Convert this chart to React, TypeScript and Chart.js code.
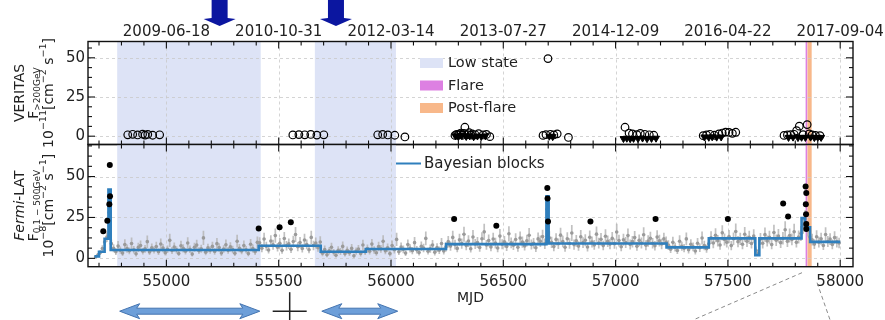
import React, { useEffect, useRef } from 'react';
import { Chart, registerables } from 'chart.js';
Chart.register(...registerables);

// ---------- axes ----------
const X_MIN = 54651;
const X_MAX = 58057;
const xTicks = [55000, 55500, 56000, 56500, 57000, 57500, 58000];
const dateLabels = ['2009-06-18', '2010-10-31', '2012-03-14', '2013-07-27', '2014-12-09', '2016-04-22', '2017-09-04'];
const yTicks = [0, 25, 50];
const TOP_Y = [-5.3, 60.4];
const BOT_Y = [-5.1, 69.6];

// ---------- states (MJD) ----------
const lowStates = [[54781, 55420], [55661, 56022]];
const flareRange = [57846, 57853];
const postFlareRange = [57854, 57873];
const markerArrows = [55237, 55755];
const lowStateArrows = [[54792, 55416], [55692, 56030]];
const crossMjd = 55549;
const zoomLines = [[57830, 57345], [57897, 57955]];

// ---------- VERITAS ----------
const vMjd = [54828, 54850, 54872, 54894, 54905, 54917, 54939, 54970,
  55563, 55590, 55616, 55643, 55670, 55701,
  55941, 55963, 55986, 56017, 56062,
  56285, 56292, 56298, 56305, 56312, 56318, 56325, 56329, 56340, 56348, 56355, 56362, 56375, 56390, 56410, 56425, 56440,
  56677, 56690, 56699, 56710, 56725, 56740, 56790,
  57042, 57060, 57075, 57095, 57110, 57130, 57150, 57170,
  57390, 57405, 57420, 57440, 57460, 57475, 57490, 57505, 57520, 57535,
  57750, 57765, 57780, 57795, 57806, 57818, 57835, 57853, 57862, 57875, 57890, 57910];
const vFlux = [0.9, 1.2, 0.8, 1.3, 0.7, 1.1, 0.6, 0.9,
  0.8, 1.0, 0.9, 1.1, 0.7, 0.9,
  0.9, 1.1, 0.8, 0.6, -0.5,
  0.5, 1.2, 0.8, 1.5, 2.0, 0.6, 1.8, 5.7, 1.0, 2.2, 0.7, 1.4, 0.9, 1.6, 0.8, 1.1, -0.3,
  0.5, 1.0, 49.5, 1.2, 0.8, 1.5, -0.8,
  5.7, 2.0, 1.5, 1.0, 1.8, 1.2, 0.9, 0.6,
  0.3, 0.8, 1.2, 0.6, 1.5, 2.0, 2.6, 2.4, 1.8, 2.5,
  0.5, 0.8, 1.0, 1.2, 3.5, 6.4, 1.0, 7.4, 1.5, 0.8, 0.5, 0.3];
const ulMjd = [56288, 56300, 56315, 56335, 56350, 56368, 56385, 56402, 56420,
  56705, 56720,
  57035, 57050, 57065, 57080, 57100, 57120, 57140, 57160, 57180,
  57395, 57415, 57430, 57450, 57470,
  57770, 57790, 57812, 57828, 57845, 57868, 57885, 57900, 57915];
const ulFlux = [0.2, -0.3, 0.4, -0.2, 0.3, -0.4, 0.1, -0.2, 0.2,
  0.0, -0.3,
  -1.5, -1.3, -1.6, -1.4, -1.5, -1.2, -1.6, -1.4, -1.3,
  -0.5, -0.7, -0.4, -0.6, -0.5,
  -0.8, -0.6, -0.9, -0.7, -0.8, -0.6, -0.9, -0.7, -0.8];

// ---------- Fermi-LAT (10-day bins) ----------
const FERMI_START = 54685;
const FERMI_STEP = 10;
const fermiFlux = [
  1.0, 2.0, 3.5, 6.0, 10.0, 13.0, 28, 9.0,
  6.2, 4.1, 7.5, 5.0, 3.2, 8.4, 6.0, 4.6, 9.1, 5.3,
  2.8, 6.7, 7.9, 4.4, 5.8, 10.2, 3.9, 6.5, 5.1, 7.2,
  4.0, 8.8, 6.3, 3.5, 5.6, 11.0, 4.8, 6.9, 5.2, 3.0,
  7.7, 6.1, 4.3, 9.4, 5.5, 2.6, 6.8, 8.1, 4.7, 5.9,
  12.5, 3.8, 6.4, 5.0, 7.3, 4.2, 9.0, 6.6, 3.3, 5.7,
  8.3, 4.9, 7.0, 5.4, 3.1, 10.5, 6.2, 4.5, 7.8, 5.3,
  2.9, 8.6, 6.0, 4.1, 9.8,
  9.5, 6.2, 11.8, 7.4, 5.1, 10.6, 8.3, 13.9, 6.8, 9.2,
  4.9, 12.1, 7.7, 8.9, 5.6, 10.3, 14.6, 7.1, 9.7, 6.0,
  11.2, 8.5, 5.3, 12.8, 7.9, 9.4, 6.5, 10.0,
  3.1, 5.4, 2.2, 4.6, 6.8, 3.7, 1.9, 5.0, 4.2, 7.3,
  2.8, 4.9, 3.4, 6.1, 1.6, 4.4, 5.7, 3.0, 8.2, 4.1,
  6.0, 4.3, 8.7, 5.1, 3.4, 7.2, 5.8, 10.4, 4.6, 6.5,
  2.9, 7.9, 5.3, 11.6, 4.0, 6.9, 5.5, 3.2, 8.4, 6.1,
  4.7, 9.6, 5.2, 3.6, 7.4, 6.3, 12.2, 4.4, 5.9, 8.1,
  3.8, 6.6, 5.0, 9.1, 4.5, 7.0,
  10.2, 7.5, 12.8, 8.4, 6.1, 11.3, 9.0, 14.7, 7.8, 10.6,
  5.9, 13.1, 8.8, 9.7, 6.6, 12.0, 16.2, 8.2, 10.9, 7.0,
  11.8, 9.3, 6.3, 13.6, 8.6, 10.1, 7.3, 15.0, 9.5, 8.0,
  11.5, 6.8, 12.4, 9.9, 7.6, 10.8, 14.1, 8.5, 9.2, 6.5,
  11.9, 10.4, 13.3, 8.9,
  30,
  12.5, 9.8, 7.2, 11.6, 8.9, 14.2, 10.3, 6.8, 12.0, 9.1,
  15.5, 8.4, 10.7, 7.5, 13.2, 9.6, 11.1, 6.9, 12.9, 10.0,
  8.2, 14.8, 9.3, 11.7, 7.8, 13.5, 10.5, 8.7, 12.2, 9.0,
  16.1, 10.9, 7.1, 11.4, 9.7, 13.9, 8.5, 10.2, 12.7, 7.4,
  11.0, 9.4, 14.4, 8.0, 10.6, 12.3, 9.2, 7.7, 13.0, 10.8,
  8.8, 11.9, 9.9,
  8.1, 5.6, 9.8, 6.9, 4.8, 10.5, 7.4, 6.2, 11.9, 5.3,
  8.6, 7.0, 4.5, 9.2, 6.5, 12.4, 7.8, 5.9, 8.9,
  12.6, 9.4, 14.1, 10.8, 8.2, 15.6, 11.5, 9.9, 13.3, 7.8,
  12.0, 16.4, 10.2, 11.9, 8.6, 14.7, 10.5, 12.8, 9.1, 13.6,
  5.0, 3.2,
  11.8, 9.2, 14.5, 10.6, 12.9, 8.4, 15.8, 11.1, 13.7, 9.6,
  12.3, 17.5, 10.4, 14.0, 11.6, 16.3, 9.8, 13.1, 15.2,
  20, 24, 18, 13,
  11.4, 8.7, 13.2, 9.9, 12.0, 7.9, 14.6, 10.3, 11.8, 8.5, 12.7, 10.1, 9.4,
];
const fermiErr = [
  0.8, 1.2, 1.5, 2.0, 2.5, 3.0, 5.0, 2.5,
  2.4, 2.0, 3.1, 2.2, 1.8, 3.3, 2.5, 2.1, 3.6, 2.3,
  1.7, 2.8, 3.0, 2.0, 2.4, 3.8, 1.9, 2.6, 2.2, 3.0,
  2.0, 3.4, 2.5, 1.8, 2.3, 4.0, 2.1, 2.8, 2.2, 1.6,
  3.1, 2.5, 2.0, 3.5, 2.3, 1.5, 2.7, 3.2, 2.1, 2.4,
  4.3, 1.9, 2.6, 2.2, 2.9, 2.0, 3.4, 2.6, 1.8, 2.3,
  3.2, 2.1, 2.8, 2.3, 1.7, 3.9, 2.5, 2.0, 3.1, 2.2,
  1.6, 3.3, 2.4, 2.0, 3.6,
  3.4, 2.5, 3.9, 2.8, 2.2, 3.6, 3.0, 4.4, 2.6, 3.3,
  2.1, 4.0, 2.9, 3.2, 2.3, 3.5, 4.6, 2.7, 3.4, 2.4,
  3.8, 3.0, 2.2, 4.1, 2.9, 3.3, 2.5, 3.5,
  1.8, 2.5, 1.5, 2.2, 2.8, 2.0, 1.4, 2.4, 2.1, 3.0,
  1.7, 2.3, 1.9, 2.6, 1.3, 2.2, 2.5, 1.8, 3.2, 2.1,
  2.5, 2.0, 3.2, 2.3, 1.8, 2.9, 2.4, 3.7, 2.1, 2.6,
  1.7, 3.0, 2.3, 4.0, 2.0, 2.8, 2.4, 1.8, 3.1, 2.5,
  2.2, 3.5, 2.3, 1.9, 2.9, 2.6, 4.2, 2.1, 2.5, 3.1,
  2.0, 2.7, 2.3, 3.3, 2.1, 2.8,
  3.5, 2.8, 4.1, 3.0, 2.4, 3.8, 3.2, 4.6, 2.9, 3.6,
  2.3, 4.2, 3.1, 3.4, 2.6, 3.9, 5.0, 3.0, 3.7, 2.7,
  3.9, 3.3, 2.5, 4.3, 3.1, 3.5, 2.8, 4.7, 3.3, 2.9,
  3.8, 2.7, 4.0, 3.4, 2.8, 3.6, 4.5, 3.1, 3.2, 2.6,
  3.9, 3.5, 4.2, 3.2,
  6.0,
  4.0, 3.4, 2.8, 3.8, 3.2, 4.5, 3.5, 2.7, 3.9, 3.2,
  4.9, 3.1, 3.6, 2.9, 4.2, 3.3, 3.7, 2.7, 4.1, 3.4,
  3.0, 4.7, 3.3, 3.8, 2.9, 4.3, 3.5, 3.1, 3.9, 3.2,
  5.1, 3.6, 2.8, 3.7, 3.3, 4.4, 3.1, 3.5, 4.0, 2.8,
  3.6, 3.3, 4.6, 3.0, 3.5, 3.9, 3.2, 2.9, 4.2, 3.6,
  3.2, 3.8, 3.4,
  3.0, 2.4, 3.4, 2.7, 2.2, 3.6, 2.8, 2.5, 3.9, 2.3,
  3.1, 2.7, 2.1, 3.2, 2.6, 4.0, 2.9, 2.4, 3.1,
  3.9, 3.2, 4.3, 3.5, 2.9, 4.7, 3.7, 3.3, 4.1, 2.8,
  3.8, 4.9, 3.4, 3.7, 3.0, 4.5, 3.5, 4.0, 3.1, 4.2,
  2.2, 1.8,
  3.7, 3.1, 4.4, 3.4, 4.0, 2.9, 4.8, 3.5, 4.2, 3.2,
  3.8, 5.2, 3.4, 4.3, 3.6, 4.9, 3.2, 4.0, 4.6,
  5.0, 5.5, 4.6, 3.8,
  3.6, 3.0, 4.0, 3.3, 3.7, 2.8, 4.4, 3.4, 3.6, 3.0, 3.9, 3.4, 3.2,
];
const fermiHighMjd = [54719, 54737, 54746, 54749, 54748, 55411, 55504, 55554, 56281, 56469,
  56696, 56697, 56699, 56888, 57178, 57500, 57746, 57768,
  57846, 57849, 57847, 57848, 57849, 57849];
const fermiHighFlux = [16.5, 23, 33, 38, 57, 18.3, 19, 22, 24, 20,
  43, 36.6, 22.6, 22.6, 24, 24, 33.5, 25.6,
  44, 40, 33, 27, 21, 18];

// ---------- Bayesian blocks ----------
const bbEdges = [54680, 54700, 54725, 54742, 54752, 55411, 55687, 55888, 56245, 56692, 56702, 57227, 57415, 57622, 57640, 57828, 57843, 57866, 58000];
const bbLevels = [1.2, 4, 12, 42, 5.1, 7.7, 4.0, 5.7, 8.7, 38, 9.1, 6.7, 12.2, 2.0, 12.2, 24.6, 19, 10.1];

// ---------- styles ----------
const FONT = "'DejaVu Sans', 'Liberation Sans', sans-serif";
const TEXT = '#222';
const LOW_COLOR = '#dde3f6';
const FLARE_COLOR = '#dd80e2';
const POST_COLOR = '#f8b88a';
const BB_COLOR = '#2f7fbd';
const GREY = '#9a9a9a';
const GREY_BAR = 'rgba(182,182,182,0.85)';
const GRID = '#c9c9c9';

type Seg = { t: string; s: number; dy?: number; it?: boolean };
const topTitle: Seg[][] = [
  [{ t: 'VERITAS', s: 14 }],
  [{ t: 'F', s: 14 }, { t: '>200GeV', s: 9, dy: 4 }],
  [{ t: '10', s: 14 }, { t: '−11', s: 9.5, dy: -5 }, { t: '[cm', s: 14 }, { t: '−2', s: 9.5, dy: -5 }, { t: ' s', s: 14 }, { t: '−1', s: 9.5, dy: -5 }, { t: ']', s: 14 }],
];
const botTitle: Seg[][] = [
  [{ t: 'Fermi', s: 14, it: true }, { t: '-LAT', s: 14 }],
  [{ t: 'F', s: 14 }, { t: '0.1 − 500GeV', s: 9, dy: 4 }],
  [{ t: '10', s: 14 }, { t: '−8', s: 9.5, dy: -5 }, { t: '[cm', s: 14 }, { t: '−2', s: 9.5, dy: -5 }, { t: ' s', s: 14 }, { t: '−1', s: 9.5, dy: -5 }, { t: ']', s: 14 }],
];
const titleX = [20, 34, 49];
const topLegend = [['Low state', LOW_COLOR], ['Flare', FLARE_COLOR], ['Post-flare', POST_COLOR]];

function drawRotRich(ctx: CanvasRenderingContext2D, segs: Seg[], cx: number, cy: number) {
  ctx.save();
  ctx.translate(cx, cy);
  ctx.rotate(-Math.PI / 2);
  ctx.textBaseline = 'middle';
  ctx.textAlign = 'left';
  ctx.fillStyle = TEXT;
  const f = (g: Seg) => `${g.it ? 'italic ' : ''}${g.s}px ${FONT}`;
  let w = 0;
  segs.forEach((g) => { ctx.font = f(g); w += ctx.measureText(g.t).width; });
  let xx = -w / 2;
  segs.forEach((g) => { ctx.font = f(g); ctx.fillText(g.t, xx, g.dy || 0); xx += ctx.measureText(g.t).width; });
  ctx.restore();
}

function drawBandsGrid(chart: any) {
  const { ctx, chartArea: a, scales } = chart;
  const x = scales.x, y = scales.y;
  ctx.save();
  ctx.beginPath();
  ctx.rect(a.left, a.top, a.right - a.left, a.bottom - a.top);
  ctx.clip();
  const band = (r: number[], c: string) => {
    const x1 = x.getPixelForValue(r[0]), x2 = x.getPixelForValue(r[1]);
    ctx.fillStyle = c;
    ctx.fillRect(x1, a.top, x2 - x1, a.bottom - a.top);
  };
  lowStates.forEach((r) => band(r, LOW_COLOR));
  band(postFlareRange, POST_COLOR);
  band(flareRange, FLARE_COLOR);
  ctx.strokeStyle = GRID;
  ctx.lineWidth = 0.8;
  ctx.setLineDash([3, 3]);
  xTicks.forEach((v) => {
    const px = Math.round(x.getPixelForValue(v)) + 0.5;
    ctx.beginPath(); ctx.moveTo(px, a.top); ctx.lineTo(px, a.bottom); ctx.stroke();
  });
  yTicks.forEach((v) => {
    const py = Math.round(y.getPixelForValue(v)) + 0.5;
    ctx.beginPath(); ctx.moveTo(a.left, py); ctx.lineTo(a.right, py); ctx.stroke();
  });
  ctx.restore();
}

function drawFrame(chart: any) {
  const { ctx, chartArea: a, scales } = chart;
  const x = scales.x, y = scales.y;
  ctx.save();
  ctx.strokeStyle = '#111';
  ctx.lineWidth = 1.1;
  const ln = (x1: number, y1: number, x2: number, y2: number) => { ctx.beginPath(); ctx.moveTo(x1, y1); ctx.lineTo(x2, y2); ctx.stroke(); };
  for (let v = Math.ceil(x.min / 100) * 100; v <= x.max; v += 100) {
    const px = x.getPixelForValue(v);
    const len = v % 500 === 0 ? 7 : 4;
    ln(px, a.top, px, a.top + len);
    ln(px, a.bottom, px, a.bottom - len);
  }
  for (let v = Math.ceil(y.min / 6.25) * 6.25; v <= y.max; v += 6.25) {
    const py = y.getPixelForValue(v);
    const len = Math.abs(v % 25) < 1e-6 ? 7 : 4;
    ln(a.left, py, a.left + len, py);
    ln(a.right, py, a.right - len, py);
  }
  ctx.lineWidth = 1.4;
  ctx.strokeRect(a.left, a.top, a.right - a.left, a.bottom - a.top);
  ctx.restore();
}

const topPlugin = {
  id: 'topDecor',
  beforeDatasetsDraw(chart: any) { drawBandsGrid(chart); },
  afterDraw(chart: any) {
    const { ctx, chartArea: a, scales } = chart;
    const x = scales.x;
    drawFrame(chart);
    const cy = (a.top + a.bottom) / 2;
    topTitle.forEach((l, i) => drawRotRich(ctx, l, titleX[i], cy));
    ctx.save();
    ctx.font = `14.5px ${FONT}`;
    ctx.textBaseline = 'middle';
    topLegend.forEach(([label, col], i) => {
      const yy = a.top + 21.5 + i * 22.5;
      ctx.fillStyle = col;
      ctx.fillRect(420, yy - 5, 23, 10);
      ctx.fillStyle = TEXT;
      ctx.fillText(label, 448, yy + 0.5);
    });
    ctx.fillStyle = '#0b16a0';
    markerArrows.forEach((m) => {
      const cx = x.getPixelForValue(m);
      ctx.beginPath();
      ctx.moveTo(cx - 8, 0);
      ctx.lineTo(cx + 8, 0);
      ctx.lineTo(cx + 8, 18);
      ctx.lineTo(cx + 16, 19);
      ctx.lineTo(cx, 26);
      ctx.lineTo(cx - 16, 19);
      ctx.lineTo(cx - 8, 18);
      ctx.closePath();
      ctx.fill();
    });
    ctx.restore();
  },
};

function doubleArrow(ctx: CanvasRenderingContext2D, x1: number, x2: number, yc: number) {
  const hl = 20, hh = 7.5, sh = 3;
  ctx.beginPath();
  ctx.moveTo(x1, yc);
  ctx.lineTo(x1 + hl, yc - hh);
  ctx.lineTo(x1 + hl - 3, yc - sh);
  ctx.lineTo(x2 - hl + 3, yc - sh);
  ctx.lineTo(x2 - hl, yc - hh);
  ctx.lineTo(x2, yc);
  ctx.lineTo(x2 - hl, yc + hh);
  ctx.lineTo(x2 - hl + 3, yc + sh);
  ctx.lineTo(x1 + hl - 3, yc + sh);
  ctx.lineTo(x1 + hl, yc + hh);
  ctx.closePath();
  ctx.fillStyle = '#6d9fd9';
  ctx.fill();
  ctx.strokeStyle = '#4474b0';
  ctx.lineWidth = 1;
  ctx.stroke();
}

const botPlugin = {
  id: 'botDecor',
  beforeDatasetsDraw(chart: any) {
    drawBandsGrid(chart);
    const { ctx, chartArea: a, scales } = chart;
    const x = scales.x, y = scales.y;
    ctx.save();
    ctx.beginPath();
    ctx.rect(a.left, a.top, a.right - a.left, a.bottom - a.top);
    ctx.clip();
    ctx.strokeStyle = GREY_BAR;
    ctx.lineWidth = 1.7;
    fermiFlux.forEach((f, i) => {
      const m = FERMI_START + i * FERMI_STEP;
      const px = x.getPixelForValue(m);
      ctx.beginPath();
      ctx.moveTo(px, y.getPixelForValue(f - fermiErr[i]));
      ctx.lineTo(px, y.getPixelForValue(f + fermiErr[i]));
      ctx.stroke();
    });
    ctx.lineWidth = 1;
    fermiFlux.forEach((f, i) => {
      const m = FERMI_START + i * FERMI_STEP;
      ctx.beginPath();
      ctx.moveTo(x.getPixelForValue(m - 5), y.getPixelForValue(f));
      ctx.lineTo(x.getPixelForValue(m + 5), y.getPixelForValue(f));
      ctx.stroke();
    });
    ctx.restore();
  },
  afterDraw(chart: any) {
    const { ctx, chartArea: a, scales } = chart;
    const x = scales.x;
    drawFrame(chart);
    const cy = (a.top + a.bottom) / 2;
    botTitle.forEach((l, i) => drawRotRich(ctx, l, titleX[i], cy));
    ctx.save();
    ctx.strokeStyle = BB_COLOR;
    ctx.lineWidth = 2;
    ctx.beginPath(); ctx.moveTo(396, a.top + 19); ctx.lineTo(421, a.top + 19); ctx.stroke();
    ctx.fillStyle = TEXT;
    ctx.font = `15px ${FONT}`;
    ctx.textBaseline = 'middle';
    ctx.fillText('Bayesian blocks', 424, a.top + 19.5);
    ctx.textAlign = 'center';
    ctx.font = `14px ${FONT}`;
    ctx.fillText('MJD', (a.left + a.right) / 2, a.bottom + 32);
    const yc = a.bottom + 44.5;
    lowStateArrows.forEach((r) => doubleArrow(ctx, x.getPixelForValue(r[0]), x.getPixelForValue(r[1]), yc));
    const cx = x.getPixelForValue(crossMjd);
    ctx.strokeStyle = '#222';
    ctx.lineWidth = 1.5;
    ctx.beginPath(); ctx.moveTo(cx - 17, yc); ctx.lineTo(cx + 17, yc); ctx.stroke();
    ctx.beginPath(); ctx.moveTo(cx, yc - 19); ctx.lineTo(cx, chart.height); ctx.stroke();
    ctx.strokeStyle = '#8a8a8a';
    ctx.lineWidth = 1;
    ctx.setLineDash([4, 3]);
    ctx.beginPath(); ctx.moveTo(x.getPixelForValue(zoomLines[0][0]), a.bottom + 6); ctx.lineTo(x.getPixelForValue(zoomLines[0][1]), chart.height); ctx.stroke();
    ctx.beginPath(); ctx.moveTo(x.getPixelForValue(zoomLines[1][0]), a.bottom + 16); ctx.lineTo(x.getPixelForValue(zoomLines[1][1]), chart.height); ctx.stroke();
    ctx.restore();
  },
};

const tickFont = { family: FONT, size: 15 };
const noPad = (s: any) => { s.paddingTop = 0; s.paddingBottom = 0; s.paddingLeft = 0; s.paddingRight = 0; };

function yScale(range: number[]) {
  return {
    type: 'linear', position: 'left', min: range[0], max: range[1],
    grid: { display: false, drawTicks: false }, border: { display: false },
    afterBuildTicks: (s: any) => { s.ticks = yTicks.map((v) => ({ value: v })); },
    afterFit: (s: any) => { s.width = 88; noPad(s); },
    ticks: { padding: 3, color: TEXT, font: tickFont, callback: (v: any) => String(v) },
  };
}

export default function App() {
  const topRef = useRef<HTMLCanvasElement>(null);
  const botRef = useRef<HTMLCanvasElement>(null);

  useEffect(() => {
    document.body.style.margin = '0';
    const top = new Chart(topRef.current as HTMLCanvasElement, {
      type: 'scatter',
      data: {
        datasets: [
          {
            label: 'VERITAS', data: vMjd.map((m, i) => ({ x: m, y: vFlux[i] })),
            pointStyle: 'circle', pointRadius: 3.8, borderWidth: 1.2, borderColor: '#000', backgroundColor: 'rgba(0,0,0,0)',
          },
          {
            label: 'VERITAS UL', data: ulMjd.map((m, i) => ({ x: m, y: ulFlux[i] })),
            pointStyle: 'triangle', rotation: 180, pointRadius: 4, borderWidth: 1, borderColor: '#000', backgroundColor: '#000',
          },
        ],
      } as any,
      options: {
        animation: false, responsive: false, events: [],
        layout: { padding: { left: 0, right: 32, top: 0, bottom: 5.5 } },
        plugins: { legend: { display: false }, tooltip: { enabled: false } },
        scales: {
          x: {
            type: 'linear', position: 'top', min: X_MIN, max: X_MAX,
            grid: { display: false, drawTicks: false }, border: { display: false },
            afterBuildTicks: (s: any) => { s.ticks = xTicks.map((v) => ({ value: v })); },
            afterFit: (s: any) => { s.height = 41.5; noPad(s); },
            ticks: { autoSkip: false, maxRotation: 0, padding: 0, color: TEXT, font: tickFont, callback: (v: any) => dateLabels[xTicks.indexOf(Number(v))] },
          },
          y: yScale(TOP_Y),
        },
      } as any,
      plugins: [topPlugin],
    });

    const bbData = bbLevels.map((l, i) => ({ x: bbEdges[i], y: l }));
    bbData.push({ x: bbEdges[bbEdges.length - 1], y: bbLevels[bbLevels.length - 1] });

    const bot = new Chart(botRef.current as HTMLCanvasElement, {
      type: 'scatter',
      data: {
        datasets: [
          {
            label: 'Fermi high', data: fermiHighMjd.map((m, i) => ({ x: m, y: fermiHighFlux[i] })),
            pointRadius: 3, borderWidth: 0, backgroundColor: '#000',
          },
          {
            label: 'Bayesian blocks', data: bbData, showLine: true, stepped: 'before',
            pointRadius: 0, borderColor: BB_COLOR, borderWidth: 2.6, fill: false,
          },
          {
            label: 'Fermi-LAT', data: fermiFlux.map((f, i) => ({ x: FERMI_START + i * FERMI_STEP, y: f })),
            pointRadius: 1.8, borderWidth: 0, backgroundColor: GREY,
          },
        ],
      } as any,
      options: {
        animation: false, responsive: false, events: [],
        layout: { padding: { left: 0, right: 32, top: 4.5, bottom: 0 } },
        plugins: { legend: { display: false }, tooltip: { enabled: false } },
        scales: {
          x: {
            type: 'linear', position: 'bottom', min: X_MIN, max: X_MAX,
            grid: { display: false, drawTicks: false }, border: { display: false },
            afterBuildTicks: (s: any) => { s.ticks = xTicks.map((v) => ({ value: v })); },
            afterFit: (s: any) => { s.height = 53.3; noPad(s); },
            ticks: { autoSkip: false, maxRotation: 0, padding: 6, color: TEXT, font: tickFont, callback: (v: any) => String(v) },
          },
          y: yScale(BOT_Y),
        },
      } as any,
      plugins: [botPlugin],
    });

    return () => { top.destroy(); bot.destroy(); };
  }, []);

  return (
    <div style={{ position: 'relative', width: 885, height: 320, background: '#fff', overflow: 'hidden' }}>
      <canvas ref={topRef} width={885} height={150} style={{ position: 'absolute', left: 0, top: 0 }} />
      <canvas ref={botRef} width={885} height={180} style={{ position: 'absolute', left: 0, top: 140 }} />
    </div>
  );
}
